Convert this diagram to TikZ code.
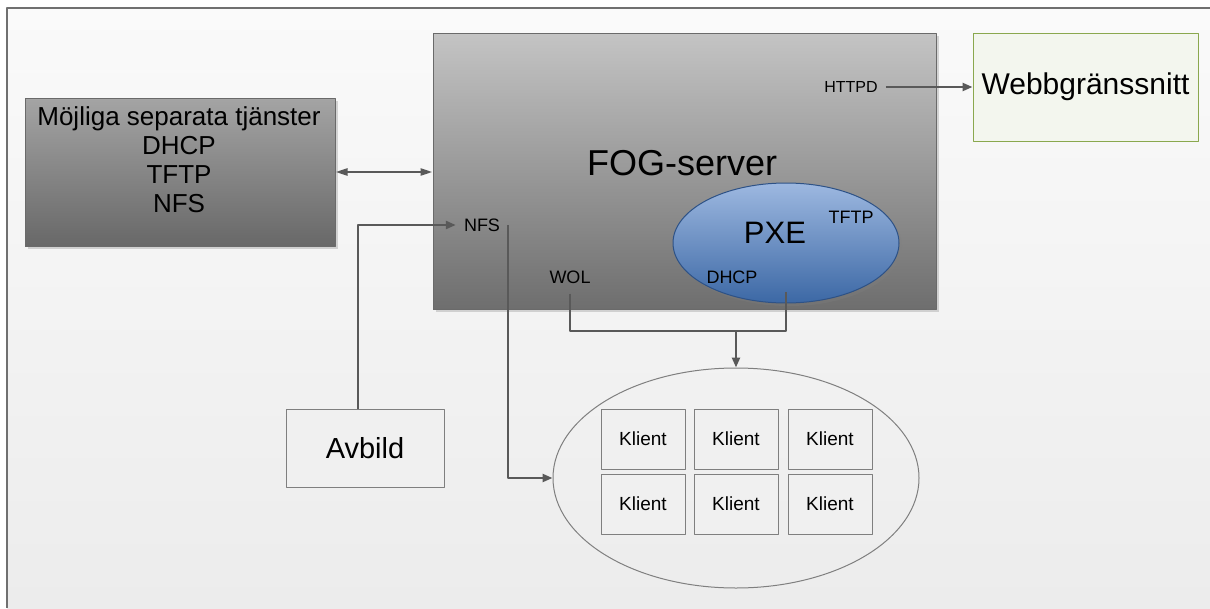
\documentclass[tikz,border=0pt]{standalone}
\usepackage{fontspec}
\setmainfont{Liberation Sans}
\usetikzlibrary{positioning,shapes.geometric,shadows,arrows.meta}

\definecolor{wire}{HTML}{595959}
\definecolor{frametop}{HTML}{FAFAFA}
\definecolor{framebot}{HTML}{ECECEC}
\definecolor{frameedge}{HTML}{707070}
\definecolor{servertop}{HTML}{C4C4C4}
\definecolor{serverbot}{HTML}{6E6E6E}
\definecolor{extratop}{HTML}{A4A4A4}
\definecolor{extrabot}{HTML}{686868}
\definecolor{pxetop}{HTML}{9DB8E0}
\definecolor{pxebot}{HTML}{3C68A5}
\definecolor{pxeedge}{HTML}{2E5286}
\definecolor{webfill}{HTML}{F3F6EE}
\definecolor{webedge}{HTML}{8AA84E}
\definecolor{boxfill}{HTML}{F0F0F0}
\definecolor{boxedge}{HTML}{7F7F7F}

\newcommand{\pxfont}[1]{\fontsize{#1}{#1}\selectfont}

\begin{document}
\begin{tikzpicture}[x=1pt, y=-1pt, line join=round,
    wirestyle/.style={draw=wire, line width=2.4pt},
    conn/.style={wirestyle, -{Triangle[length=10pt,width=8pt]}},
    softshadow/.style={drop shadow={opacity=0.3, shadow xshift=3pt, shadow yshift=-3pt}},
    serverbox/.style={draw=wire!90, line width=1pt, top color=servertop, bottom color=serverbot, softshadow},
    extrabox/.style={draw=wire!90, line width=1pt, top color=extratop, bottom color=extrabot, softshadow},
    plainbox/.style={draw=boxedge, line width=1pt, fill=boxfill},
    klient/.style={plainbox, minimum width=84, minimum height=60, font=\pxfont{19}},
    tag/.style={font=\pxfont{18}, inner xsep=8pt, inner ysep=10pt}]
    \useasboundingbox (0,0) rectangle (1210,608);

    % Background frame
    \fill[top color=frametop, bottom color=framebot] (7,8) rectangle (1210,608);
    \draw[frameedge, line width=2pt] (7,608) -- (7,8) -- (1210,8);

    % Separate services
    \node[extrabox, minimum width=310, minimum height=148] (tjanster) at (180,172) {};
    \node[align=center, font=\fontsize{26}{29}\selectfont] (tjanstertext) at (179,160)
        {Möjliga separata tjänster\\DHCP\\TFTP\\NFS};

    % FOG server with its services
    \node[serverbox, minimum width=503, minimum height=276] (fog) at (684.5,171) {};
    \node[font=\pxfont{36}] (fogtitle) at (682,163) {FOG-server};
    \node[ellipse, draw=pxeedge, line width=1pt, top color=pxetop, bottom color=pxebot,
          softshadow, minimum width=226, minimum height=120] (pxe) at (786,243) {};
    \node[font=\pxfont{31}] (pxetext) at (775,233) {PXE};
    \node[tag] (tftp) at (851,217) {TFTP};
    \node[tag] (dhcp) at (732,277) {DHCP};
    \node[tag] (wol) at (570,277) {WOL};
    \node[tag] (nfs) at (482,225) {NFS};
    \node[tag, font=\pxfont{16}] (httpd) at (851,87) {HTTPD};

    % Web interface and image
    \node[draw=webedge, line width=1pt, fill=webfill, minimum width=225, minimum height=108,
          font=\pxfont{30}] (web) at (1085.5,87) {Webbgränssnitt};
    \node[plainbox, minimum width=158, minimum height=78, font=\pxfont{29}] (avbild) at (365,448) {Avbild};

    % Clients
    \node[ellipse, draw=boxedge, line width=1pt, minimum width=366, minimum height=220] (klienter) at (736,478) {};
    \foreach \col/\cx in {1/643, 2/736, 3/830}
        \foreach \row/\cy in {1/439, 2/504}
            \node[klient] (k\row\col) at (\cx,\cy) {Klient};

    % Connectors
    \draw[conn, {Triangle[length=12pt,width=7pt]}-{Triangle[length=12pt,width=7pt]}]
        (tjanster.east) -- (tjanster.east -| fog.west);
    \draw[conn] (httpd.east) -- (web.west);
    \draw[conn] ([xshift=-7pt]avbild.north) |- (nfs.west);
    \draw[conn] (nfs.east) |- (klienter.west);
    \coordinate (bar) at (736,331);
    \draw[wirestyle] (wol.south) |- (bar) -| ([yshift=12pt]pxe.south);
    \draw[conn] (bar) -- (klienter.north);
\end{tikzpicture}
\end{document}
